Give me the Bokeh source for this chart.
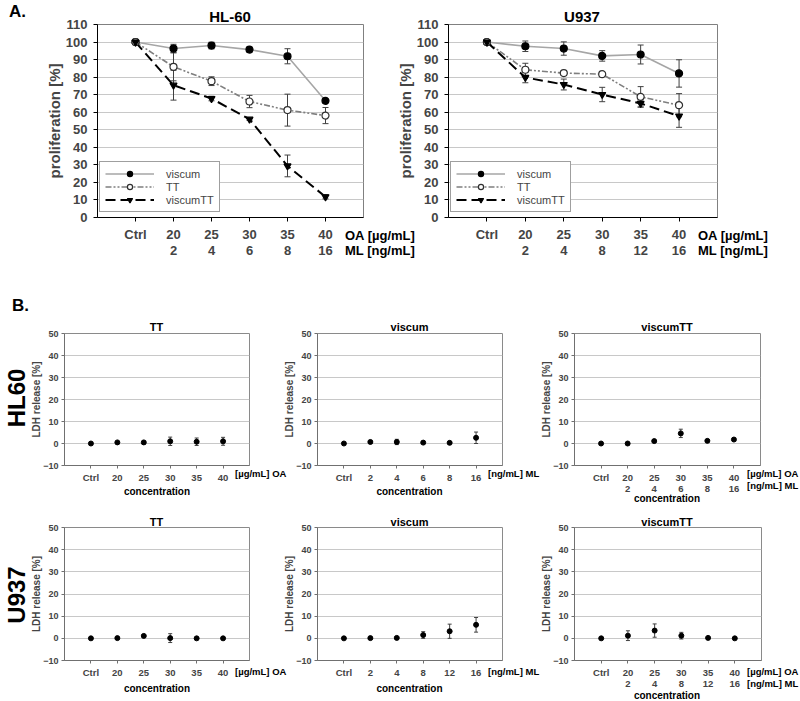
from bokeh.plotting import figure
from bokeh.models import ColumnDataSource, FixedTicker, Legend, LegendItem, Div
from bokeh.layouts import row, column
from bokeh.embed import file_html
from bokeh.resources import INLINE

FONT = "Liberation Sans"

# ---------------- Panel A data (proliferation %) ----------------
a_oa = ["Ctrl", "20", "25", "30", "35", "40"]
a_ml_hl60 = ["", "2", "4", "6", "8", "16"]
a_ml_u937 = ["", "2", "4", "8", "12", "16"]

hl60_viscum = [100, 96.3, 98.0, 95.7, 91.9, 66.5]
hl60_viscum_err = [0, 2.4, 1.9, 1.5, 4.3, 0.9]
hl60_tt = [100, 85.9, 77.7, 66.1, 61.2, 58.1]
hl60_tt_err = [0, 8.0, 2.5, 3.5, 9.1, 4.6]
hl60_vtt = [100, 75.4, 67.8, 56.0, 29.4, 11.8]
hl60_vtt_err = [0, 8.5, 1.3, 0.6, 6.2, 1.2]

u937_viscum = [100, 97.6, 96.3, 92.1, 92.9, 82.1]
u937_viscum_err = [0, 3.0, 3.8, 3.0, 5.4, 7.8]
u937_tt = [100, 84.2, 82.3, 81.7, 68.8, 64.0]
u937_tt_err = [0, 3.7, 1.0, 1.0, 5.8, 6.6]
u937_vtt = [100, 79.8, 75.8, 70.1, 65.0, 57.8]
u937_vtt_err = [0, 3.0, 3.1, 4.1, 2.1, 6.4]

# ---------------- Panel B data (LDH release %) ----------------
b_oa = ["Ctrl", "20", "25", "30", "35", "40"]
b_ml_hl60 = ["Ctrl", "2", "4", "6", "8", "16"]
b_ml_u937 = ["Ctrl", "2", "4", "8", "12", "16"]

hl60_tt_ldh = [0, 0.5, 0.5, 1.0, 0.8, 1.0]
hl60_tt_ldh_err = [0, 0.4, 0.6, 1.9, 1.7, 1.8]
hl60_vis_ldh = [0, 0.7, 0.7, 0.4, 0.3, 2.6]
hl60_vis_ldh_err = [0, 0.3, 1.2, 0.3, 0.3, 2.6]
hl60_vtt_ldh = [0, 0.0, 1.1, 4.6, 1.2, 1.8]
hl60_vtt_ldh_err = [0, 0.2, 0.4, 1.9, 0.4, 0.3]

u937_tt_ldh = [0, 0.1, 1.1, 0.1, 0.0, 0.0]
u937_tt_ldh_err = [0, 0.2, 0.3, 2.0, 0.2, 0.1]
u937_vis_ldh = [0, 0.1, 0.2, 1.5, 3.2, 6.1]
u937_vis_ldh_err = [0, 0.2, 0.3, 1.5, 3.2, 3.3]
u937_vtt_ldh = [0, 1.2, 3.5, 1.2, 0.2, 0.0]
u937_vtt_ldh_err = [0, 2.2, 3.0, 1.5, 0.2, 0.1]

# texts that sit outside the plot frames (page pixel positions)
overlay = []


def txt(x, y, text, size, anchor="left", rotate=False, bold=True):
    if rotate:
        tr = "translate(-50%,-50%) rotate(-90deg)"
    elif anchor == "center":
        tr = "translate(-50%,-50%)"
    else:
        tr = "translateY(-50%)"
    overlay.append(
        '<div style="position:absolute;left:%spx;top:%spx;font-size:%s;'
        'font-weight:%s;white-space:nowrap;line-height:1;transform:%s;">%s</div>'
        % (x, y, size, "bold" if bold else "normal", tr, text))


def errbars(p, src, color, head):
    p.segment(x0="x", y0="lo", x1="x", y1="hi", source=src, line_color=color,
              line_width=1)
    p.scatter("x", "hi", source=src, marker="dash", size=head, line_color=color,
              line_width=1)
    p.scatter("x", "lo", source=src, marker="dash", size=head, line_color=color,
              line_width=1)


def panel_a(ml, series, width, mbl, frame_w, margin_left):
    mbr = width - mbl - frame_w
    p = figure(width=width, height=270, x_range=(-1, 6), y_range=(0, 110),
               output_backend="svg", toolbar_location=None,
               min_border_left=mbl, min_border_right=mbr,
               min_border_top=24, min_border_bottom=53,
               margin=(0, 0, 0, margin_left))
    p.border_fill_color = None
    p.background_fill_color = "white"
    p.outline_line_color = "#808080"
    p.xgrid.visible = False
    p.ygrid.ticker = FixedTicker(ticks=list(range(10, 110, 10)))
    p.ygrid.grid_line_color = "#c8c8c8"

    p.yaxis.ticker = FixedTicker(ticks=list(range(0, 120, 10)))
    p.yaxis.axis_label = "proliferation [%]"
    p.yaxis.axis_label_text_font = FONT
    p.yaxis.axis_label_text_font_size = "15px"
    p.yaxis.axis_label_text_font_style = "bold"
    p.yaxis.axis_label_standoff = 0
    p.yaxis.major_label_text_font = FONT
    p.yaxis.major_label_text_font_size = "13px"
    p.yaxis.major_label_text_font_style = "bold"
    p.yaxis.major_tick_out = 4
    p.yaxis.major_tick_in = 0
    p.yaxis.minor_tick_line_color = None
    p.yaxis.major_label_standoff = 6

    p.xaxis.ticker = FixedTicker(ticks=list(range(6)))
    p.xaxis.major_label_overrides = {
        i: (a_oa[i] if ml[i] == "" else a_oa[i] + "\n" + ml[i]) for i in range(6)}
    p.xaxis.major_label_text_font = FONT
    p.xaxis.major_label_text_font_size = "13px"
    p.xaxis.major_label_text_font_style = "bold"
    p.xaxis.major_label_text_line_height = 1.1
    p.xaxis.major_tick_out = 4
    p.xaxis.major_tick_in = 0
    p.xaxis.minor_tick_line_color = None
    p.xaxis.major_label_standoff = 5
    for ax in (p.xaxis, p.yaxis):
        ax.axis_line_color = "black"
        ax.major_tick_line_color = "black"

    x = list(range(6))
    styles = {
        "viscum": dict(color="#a6a6a6", dash="solid", lw=1.6, marker="circle",
                       fill="black", mline="black"),
        "TT": dict(color="#7f7f7f", dash="6 2 2 2 2 2", lw=1.6, marker="circle",
                   fill="white", mline="#303030"),
        "viscumTT": dict(color="black", dash="10 5", lw=2, marker="inverted_triangle",
                         fill="black", mline="black"),
    }
    items = []
    lines = {}
    for name, ys, es in series:
        st = styles[name]
        src = ColumnDataSource(dict(x=x, y=ys,
                                    lo=[y - e for y, e in zip(ys, es)],
                                    hi=[y + e for y, e in zip(ys, es)]))
        lr = p.line("x", "y", source=src, line_color=st["color"],
                    line_width=st["lw"], line_dash=st["dash"])
        lines[name] = (lr, src)
    for name, ys, es in series:
        errbars(p, lines[name][1], "#404040", 6)
    for name, ys, es in series:
        st = styles[name]
        lr, src = lines[name]
        sr = p.scatter("x", "y", source=src, marker=st["marker"], size=7,
                       fill_color=st["fill"], line_color=st["mline"], line_width=1.2)
        items.append(LegendItem(label=name, renderers=[lr, sr]))

    legend = Legend(items=items, location=(2, 5), orientation="vertical",
                    label_text_font=FONT, label_text_font_size="11px",
                    padding=5, spacing=0, margin=0, glyph_width=49,
                    glyph_height=13, label_height=13, label_standoff=12,
                    border_line_color="#404040", border_line_width=1,
                    background_fill_color="white", background_fill_alpha=1)
    p.add_layout(legend)
    return p


def panel_b(labels, second, ys, es, width, height, mbl, frame_w, mbt, frame_h,
            margin_left):
    mbr = width - mbl - frame_w
    mbb = height - mbt - frame_h
    p = figure(width=width, height=height, x_range=(-1, 6), y_range=(-10, 50),
               output_backend="svg", toolbar_location=None,
               min_border_left=mbl, min_border_right=mbr,
               min_border_top=mbt, min_border_bottom=mbb,
               margin=(0, 0, 0, margin_left))
    p.border_fill_color = None
    p.background_fill_color = "white"
    p.outline_line_color = "#8a8a8a"
    p.xgrid.visible = False
    p.ygrid.ticker = FixedTicker(ticks=[0, 10, 20, 30, 40])
    p.ygrid.grid_line_color = "#c8c8c8"

    p.yaxis.ticker = FixedTicker(ticks=list(range(-10, 60, 10)))
    p.yaxis.axis_label = "LDH release [%]"
    p.yaxis.axis_label_text_font = FONT
    p.yaxis.axis_label_text_font_size = "10px"
    p.yaxis.axis_label_text_font_style = "bold"
    p.yaxis.axis_label_standoff = -2
    p.yaxis.major_label_text_font = FONT
    p.yaxis.major_label_text_font_size = "9px"
    p.yaxis.major_label_text_font_style = "bold"
    p.yaxis.major_tick_out = 3
    p.yaxis.major_tick_in = 0
    p.yaxis.minor_tick_line_color = None
    p.yaxis.major_label_standoff = 3

    p.xaxis.ticker = FixedTicker(ticks=list(range(6)))
    ov = {}
    for i in range(6):
        t = labels[i]
        if second is not None and second[i] != "":
            t = t + "\n" + second[i]
        ov[i] = t
    p.xaxis.major_label_overrides = ov
    p.xaxis.major_label_text_font = FONT
    p.xaxis.major_label_text_font_size = "9.5px"
    p.xaxis.major_label_text_font_style = "bold"
    p.xaxis.major_label_text_line_height = 1.0
    p.xaxis.major_tick_out = 3
    p.xaxis.major_tick_in = 0
    p.xaxis.minor_tick_line_color = None
    p.xaxis.major_label_standoff = 3
    for ax in (p.xaxis, p.yaxis):
        ax.axis_line_color = "#707070"
        ax.major_tick_line_color = "#707070"

    x = list(range(6))
    src = ColumnDataSource(dict(x=x, y=ys,
                                lo=[y - e for y, e in zip(ys, es)],
                                hi=[y + e for y, e in zip(ys, es)]))
    errbars(p, src, "#404040", 4)
    p.scatter("x", "y", source=src, marker="circle", size=5, fill_color="black",
              line_color="black")
    return p


# ---------------- panel A ----------------
a1 = panel_a(a_ml_hl60,
             [("viscum", hl60_viscum, hl60_viscum_err),
              ("TT", hl60_tt, hl60_tt_err),
              ("viscumTT", hl60_vtt, hl60_vtt_err)],
             width=428, mbl=97, frame_w=266, margin_left=0)
a2 = panel_a(a_ml_u937,
             [("viscum", u937_viscum, u937_viscum_err),
              ("TT", u937_tt, u937_tt_err),
              ("viscumTT", u937_vtt, u937_vtt_err)],
             width=407, mbl=55, frame_w=269, margin_left=-35)

txt(9, 11, "A.", "17px")
txt(230, 16, "HL-60", "15px", "center")
txt(582, 16, "U937", "15px", "center")
for ux in (345, 698):
    txt(ux, 235, "OA [µg/mL]", "13px")
    txt(ux, 250, "ML [ng/mL]", "13px")

# ---------------- panel B ----------------
B1H, B1T, B1F = 238, 63, 132
B2H, B2T, B2F = 193, 19, 133

b11 = panel_b(b_oa, None, hl60_tt_ldh, hl60_tt_ldh_err, 290, B1H, 64, 185, B1T, B1F, 0)
b12 = panel_b(b_ml_hl60, None, hl60_vis_ldh, hl60_vis_ldh_err, 265, B1H, 37, 185,
              B1T, B1F, -10)
b13 = panel_b(b_oa, a_ml_hl60, hl60_vtt_ldh, hl60_vtt_ldh_err, 264, B1H, 38, 186,
              B1T, B1F, -9)
b21 = panel_b(b_oa, None, u937_tt_ldh, u937_tt_ldh_err, 290, B2H, 64, 185, B2T, B2F, 0)
b22 = panel_b(b_ml_u937, None, u937_vis_ldh, u937_vis_ldh_err, 265, B2H, 37, 185,
              B2T, B2F, -10)
b23 = panel_b(b_oa, a_ml_u937, u937_vtt_ldh, u937_vtt_ldh_err, 264, B2H, 38, 187,
              B2T, B2F, -9)

txt(12, 305, "B.", "17px")
txt(17, 398, "HL60", "24px", rotate=True)
txt(17, 595, "U937", "24px", rotate=True)
for ty, uy, cy, cy2 in ((327, 474, 492, 499), (522, 672, 689, 696)):
    txt(156.5, ty, "TT", "11px", "center")
    txt(409.5, ty, "viscum", "11px", "center")
    txt(667, ty, "viscumTT", "11px", "center")
    txt(235, uy, "[µg/mL] OA", "9.5px")
    txt(488, uy, "[ng/mL] ML", "9.5px")
    txt(747, uy, "[µg/mL] OA", "9.5px")
    txt(747, uy + 12, "[ng/mL] ML", "9.5px")
    txt(157, cy, "concentration", "10px", "center")
    txt(409.5, cy, "concentration", "10px", "center")
    txt(667, cy2, "concentration", "10px", "center")

html = ('<div style="position:relative;width:800px;height:701px;'
        "font-family:'Liberation Sans',Arial,sans-serif;color:black;\">"
        + "".join(overlay) + "</div>")
texts = Div(text=html, width=800, height=701, margin=(-701, 0, 0, 0))

layout = column(row(a1, a2), row(b11, b12, b13), row(b21, b22, b23), texts)

with open("out.html", "w", encoding="utf-8") as f:
    f.write(file_html(layout, INLINE))
